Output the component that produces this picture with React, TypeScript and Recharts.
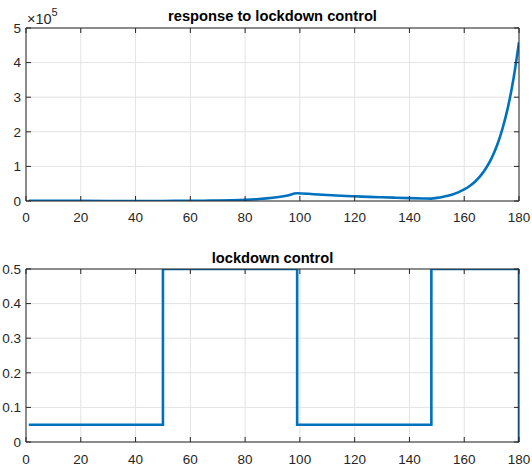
import React from 'react';
import { LineChart, Line, XAxis, YAxis, CartesianGrid } from 'recharts';

const days = [1, 10, 20, 30, 40, 50, 55, 60, 65, 70, 75, 80, 85, 90, 95, 99, 105, 110, 115, 120, 125, 130, 135, 140, 145, 148, 150, 152, 154, 156, 158, 160, 162, 164, 166, 168, 170, 172, 174, 176, 178, 180];
const cases = [300, 250, 220, 200, 180, 170, 280, 460, 760, 1250, 2050, 3400, 5600, 9200, 15000, 22500, 19500, 17300, 15300, 13600, 12000, 10700, 9500, 8400, 7400, 6900, 9000, 11700, 15200, 19800, 25700, 33400, 43400, 56500, 73400, 95400, 124000, 161000, 210000, 272000, 354000, 459000];

const controlDays = [1, 50, 99, 148, 180];
const controlLevels = [0.05, 0.5, 0.05, 0.5, 0];

const xTicks = [0, 20, 40, 60, 80, 100, 120, 140, 160, 180];
const xTickLabels = ['0', '20', '40', '60', '80', '100', '120', '140', '160', '180'];
const caseTicks = [0, 100000, 200000, 300000, 400000, 500000];
const caseTickLabels = ['0', '1', '2', '3', '4', '5'];
const controlTicks = [0, 0.1, 0.2, 0.3, 0.4, 0.5];
const controlTickLabels = ['0', '0.1', '0.2', '0.3', '0.4', '0.5'];

const titleTop = 'response to lockdown control';
const titleBottom = 'lockdown control';

const caseData = days.map((d, i) => ({ x: d, y: cases[i] }));
const controlData = controlDays.map((d, i) => ({ x: d, y: controlLevels[i] }));

const FONT = '"Liberation Sans", Arial, Helvetica, sans-serif';
const AX = '#262626';
const TXT = '#262626';
const GRID = '#e3e3e3';
const BLUE = '#0072BD';
const TICK = 5;

const bottomTick = (labels: string[], dy: number) => (props: any) => {
  const { x, y, index } = props;
  return (
    <g>
      <line x1={x} x2={x} y1={y} y2={y - TICK} stroke={AX} strokeWidth={1} />
      <text x={x} y={y + dy} textAnchor="middle" fontSize={13.5} fontFamily={FONT} fill={TXT}>
        {labels[index]}
      </text>
    </g>
  );
};

const topTick = (props: any) => {
  const { x, y } = props;
  return <line x1={x} x2={x} y1={y} y2={y + TICK} stroke={AX} strokeWidth={1} />;
};

const leftTick = (labels: string[]) => (props: any) => {
  const { x, y, index } = props;
  return (
    <g>
      <line x1={x} x2={x + TICK} y1={y} y2={y} stroke={AX} strokeWidth={1} />
      <text x={x - 5} y={y + 4.8} textAnchor="end" fontSize={13.5} fontFamily={FONT} fill={TXT}>
        {labels[index]}
      </text>
    </g>
  );
};

const rightTick = (props: any) => {
  const { x, y } = props;
  return <line x1={x} x2={x - TICK} y1={y} y2={y} stroke={AX} strokeWidth={1} />;
};

function Panel({ data, height, margin, yTicks, yLabels, yDomain, dy, step }: any) {
  return (
    <LineChart width={532} height={height} data={data} margin={margin}>
      <CartesianGrid xAxisId="b" yAxisId="l" stroke={GRID} strokeWidth={1} />
      <XAxis xAxisId="b" dataKey="x" type="number" domain={[0, 180]} ticks={xTicks} interval={0}
        height={1} tickSize={0} tickMargin={0} axisLine={{ stroke: AX, strokeWidth: 1 }} tickLine={false}
        tick={bottomTick(xTickLabels, dy)} allowDataOverflow />
      <XAxis xAxisId="t" orientation="top" dataKey="x" type="number" domain={[0, 180]} ticks={xTicks} interval={0}
        height={1} tickSize={0} tickMargin={0} axisLine={{ stroke: AX, strokeWidth: 1 }} tickLine={false}
        tick={topTick} allowDataOverflow />
      <YAxis yAxisId="l" type="number" domain={yDomain} ticks={yTicks} interval={0}
        width={1} tickSize={0} tickMargin={0} axisLine={{ stroke: AX, strokeWidth: 1 }} tickLine={false}
        tick={leftTick(yLabels)} allowDataOverflow />
      <YAxis yAxisId="r" orientation="right" type="number" domain={yDomain} ticks={yTicks} interval={0}
        width={1} tickSize={0} tickMargin={0} axisLine={{ stroke: AX, strokeWidth: 1 }} tickLine={false}
        tick={rightTick} allowDataOverflow />
      <Line xAxisId="b" yAxisId="l" dataKey="y" type={step ? 'stepAfter' : 'monotone'}
        stroke={BLUE} strokeWidth={2.6} dot={false} activeDot={false} isAnimationActive={false} />
    </LineChart>
  );
}

export default function App() {
  return (
    <div style={{ position: 'absolute', left: 0, top: 0, width: 532, height: 470, background: '#fff' }}>
      <div style={{ position: 'absolute', left: 0, top: 0 }}>
        <Panel data={caseData} height={230} margin={{ top: 27, right: 12, bottom: 28, left: 25 }}
          yTicks={caseTicks} yLabels={caseTickLabels} yDomain={[0, 500000]} dy={20.5} />
      </div>
      <div style={{ position: 'absolute', left: 0, top: 230 }}>
        <Panel data={controlData} height={240} margin={{ top: 38, right: 12, bottom: 27, left: 25 }} step
          yTicks={controlTicks} yLabels={controlTickLabels} yDomain={[0, 0.5]} dy={21.5} />
      </div>
      <svg width={532} height={470} style={{ position: 'absolute', left: 0, top: 0, pointerEvents: 'none' }}>
        <text x={272.5} y={20.5} textAnchor="middle" fontSize={14.7} fontWeight="bold" fontFamily={FONT} fill="#000">
          {titleTop}
        </text>
        <text x={272.5} y={263} textAnchor="middle" fontSize={14.7} fontWeight="bold" fontFamily={FONT} fill="#000">
          {titleBottom}
        </text>
        <text x={27} y={23.5} fontSize={14.5} fontFamily={FONT} fill={TXT}>
          ×10
          <tspan fontSize={11} dy={-7.5}>5</tspan>
        </text>
      </svg>
    </div>
  );
}
